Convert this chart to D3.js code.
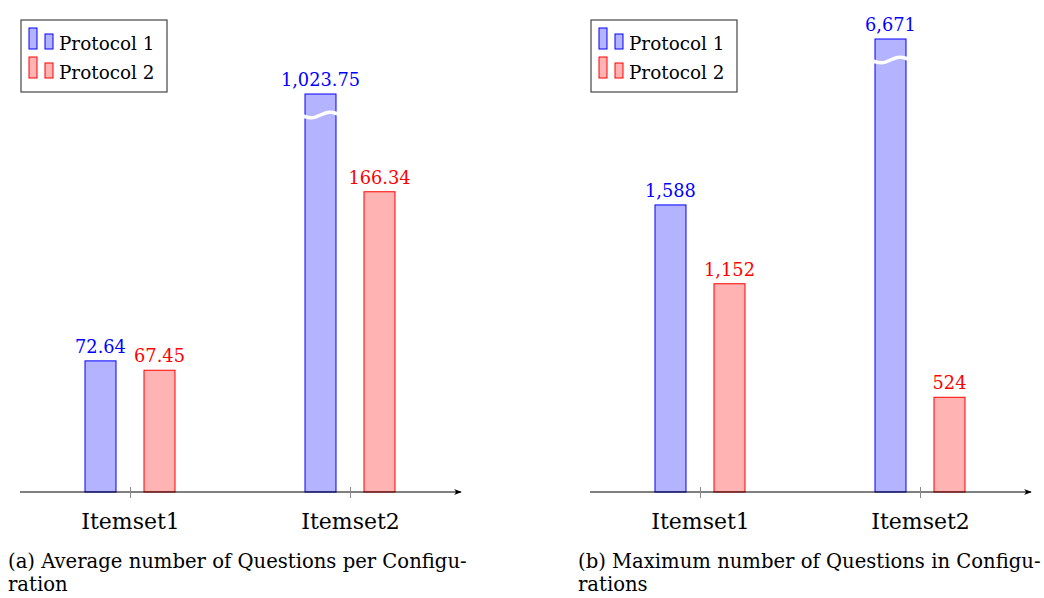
<!DOCTYPE html>
<html lang="en">
<head>
	<meta charset="UTF-8">
	<script src="https://cdn.jsdelivr.net/npm/d3@7"></script>
	<style>
		body{ margin:0; background:#fff; }
		svg text{ font-family:"DejaVu Serif", serif; }
		.p1{ fill:#b3b3ff; stroke:#0000ff; stroke-width:1px; }
		.p2{ fill:#ffb3b3; stroke:#ff0000; stroke-width:1px; }
	</style>
</head>
<body>
<script>
	// data
	const categories = ["Itemset1", "Itemset2"];
	const series = ["Protocol 1", "Protocol 2"];
	const avgP1 = [72.64, 1023.75];
	const avgP2 = [67.45, 166.34];
	const maxP1 = [1588, 6671];
	const maxP2 = [1152, 524];

	const width = 1044, height = 598;
	const svg = d3.select("body").append("svg")
		.attr("width", width).attr("height", height);

	const defs = svg.append("defs");
	defs.append("marker")
		.attr("id", "arrow")
		.attr("viewBox", "0 0 10 10")
		.attr("refX", 9).attr("refY", 5)
		.attr("markerWidth", 8).attr("markerHeight", 8)
		.attr("markerUnits", "userSpaceOnUse")
		.attr("orient", "auto")
		.append("path")
		.attr("d", "M0,1 Q5,5 0,9 L10,5 Z")
		.attr("fill", "#000");

	const fmt = d3.format(",");

	function panel(left, top, ymax, v1, v2, caption1, caption2){
		const g = svg.append("g");
		const base = 492;
		const x = d3.scalePoint().domain(categories).range([left, left + 440]).padding(0.5);
		const sub = d3.scaleBand().domain(series).range([-45, 45]).paddingInner(0.4746);
		const y = d3.scaleLinear().domain([0, ymax]).range([base, top]);

		const rows = [];
		categories.forEach((c, i) => {
			rows.push({cat:c, s:series[0], v:v1[i], cls:"p1", col:"#0000ff"});
			rows.push({cat:c, s:series[1], v:v2[i], cls:"p2", col:"#ff0000"});
		});

		// bars (clipped at ymax)
		g.selectAll(".bar").data(rows).enter().append("rect")
			.attr("class", d => d.cls)
			.attr("x", d => x(d.cat) + sub(d.s))
			.attr("width", sub.bandwidth())
			.attr("y", d => y(Math.min(d.v, ymax)))
			.attr("height", d => base - y(Math.min(d.v, ymax)));

		// break marks on clipped bars
		const wave = d3.line().curve(d3.curveBasis);
		rows.filter(d => d.v > ymax).forEach(d => {
			const x0 = x(d.cat) + sub(d.s) - 2, w = sub.bandwidth() + 4, yb = top + 21;
			g.append("path")
				.attr("d", wave([[x0, yb + 1], [x0 + w * 0.25, yb + 4], [x0 + w * 0.5, yb], [x0 + w * 0.75, yb - 4], [x0 + w, yb - 1]]))
				.attr("fill", "none").attr("stroke", "#fff").attr("stroke-width", 3.5);
		});

		// value labels
		g.selectAll(".val").data(rows).enter().append("text")
			.attr("x", d => x(d.cat) + sub(d.s) + sub.bandwidth() / 2)
			.attr("y", d => y(Math.min(d.v, ymax)) - 8)
			.attr("text-anchor", "middle")
			.attr("font-size", 17.8)
			.attr("fill", d => d.col)
			.text(d => fmt(d.v));

		// x axis with arrow
		g.append("line")
			.attr("x1", left).attr("x2", left + 441)
			.attr("y1", base).attr("y2", base)
			.attr("stroke", "#000").attr("stroke-width", 1)
			.attr("marker-end", "url(#arrow)");
		const ax = g.append("g").attr("transform", "translate(0," + base + ")")
			.call(d3.axisBottom(x).tickSize(0).tickPadding(0));
		ax.select(".domain").remove();
		ax.selectAll(".tick line").remove();
		ax.selectAll(".tick").append("line")
			.attr("y1", -5).attr("y2", 6).attr("stroke", "#888").attr("stroke-width", 1);
		ax.selectAll(".tick text")
			.attr("dy", null).attr("y", 37)
			.attr("font-size", 22)
			.attr("fill", "#000");

		// legend
		const lg = g.append("g").attr("transform", "translate(" + (left + 1) + ",20)");
		lg.append("rect").attr("width", 146).attr("height", 72)
			.attr("fill", "#fff").attr("stroke", "#444").attr("stroke-width", 1.2);
		series.forEach((s, i) => {
			const cls = i === 0 ? "p1" : "p2";
			const yy = 8 + i * 29;
			lg.append("rect").attr("class", cls).attr("x", 8).attr("y", yy).attr("width", 8).attr("height", 21);
			lg.append("rect").attr("class", cls).attr("x", 24).attr("y", yy + 6).attr("width", 8).attr("height", 15);
			lg.append("text").attr("x", 38).attr("y", yy + 22)
				.attr("font-size", 18.4).text(s);
		});

		// caption
		g.append("text").attr("x", left - 12).attr("y", 568).attr("font-size", 19.6).text(caption1);
		g.append("text").attr("x", left - 12).attr("y", 591).attr("font-size", 19.6).text(caption2);
	}

	panel(20, 94, 220.5, avgP1, avgP2, "(a) Average number of Questions per Configu-", "ration");
	panel(590, 39, 2506, maxP1, maxP2, "(b) Maximum number of Questions in Configu-", "rations");
</script>
</body>
</html>
